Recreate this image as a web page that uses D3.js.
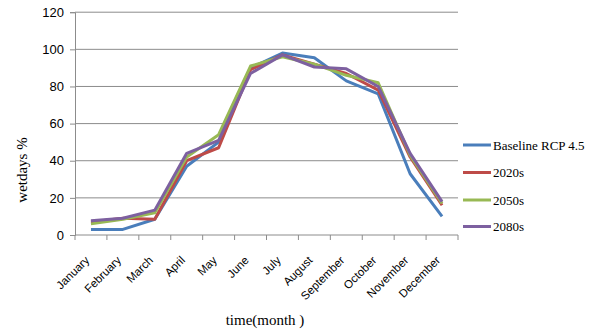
<!DOCTYPE html>
<html>
<head>
<meta charset="utf-8">
<script src="https://cdn.jsdelivr.net/npm/d3@7/dist/d3.min.js"></script>
<style>
  body { margin: 0; background: #fff; }
  svg { display: block; }
</style>
</head>
<body>
<svg id="chart" width="600" height="335"></svg>
<script>
// Monthly share of wet days (%) under the baseline and three future periods
const months = ["January", "February", "March", "April", "May", "June",
  "July", "August", "September", "October", "November", "December"];
const baseline = [3, 3, 8.5, 37, 50, 90, 98, 95.5, 83, 76, 33, 10];
const s2020 = [7, 9, 8.5, 40, 47, 89, 97, 92, 87, 78, 42, 16];
const s2050 = [6, 8.5, 12, 42, 54, 91, 96, 92, 86, 82, 43, 17];
const s2080 = [7.7, 9, 13.4, 44, 51, 87, 97, 90.5, 89.5, 80, 44, 18];
const seriesNames = ["Baseline RCP 4.5", "2020s", "2050s", "2080s"];
const colors = ["#4a7ebb", "#be4b48", "#98b954", "#7d60a0"];
const yTicks = [0, 20, 40, 60, 80, 100, 120];

const allSeries = [baseline, s2020, s2050, s2080];
const svg = d3.select("#chart");
const plotLeft = 75, plotRight = 458, plotTop = 12.2, plotBottom = 235;

const x = d3.scaleBand().domain(months).range([plotLeft, plotRight]);
const y = d3.scaleLinear().domain([0, 120]).range([plotBottom, plotTop]);

// horizontal gridlines
svg.append("g").selectAll("line").data(yTicks.filter(d => d > 0)).join("line")
  .attr("x1", plotLeft).attr("x2", plotRight)
  .attr("y1", d => y(d)).attr("y2", d => y(d))
  .attr("stroke", "#8c8c8c").attr("stroke-width", 1);

// y axis
const yAxis = svg.append("g").attr("transform", `translate(${plotLeft},0)`)
  .call(d3.axisLeft(y).tickValues(yTicks).tickSize(5).tickPadding(6));
yAxis.select(".domain").attr("stroke", "#8c8c8c");
yAxis.selectAll(".tick line").attr("stroke", "#8c8c8c");
yAxis.selectAll("text").attr("font-family", "Liberation Sans, Arial, sans-serif")
  .attr("font-size", 13).attr("fill", "#000");

// x axis with ticks at band boundaries
const xg = svg.append("g").attr("transform", `translate(0,${plotBottom})`);
xg.append("line").attr("x1", plotLeft).attr("x2", plotRight)
  .attr("stroke", "#8c8c8c");
const bounds = months.map(m => x(m)).concat([plotRight]);
xg.selectAll(".bt").data(bounds).join("line")
  .attr("x1", d => d).attr("x2", d => d).attr("y1", 0).attr("y2", 5)
  .attr("stroke", "#8c8c8c");
xg.selectAll(".ml").data(months).join("text")
  .attr("transform", d => `translate(${x(d) + x.bandwidth() / 2 - 1},${26}) rotate(-45)`)
  .attr("text-anchor", "end")
  .attr("font-family", "Liberation Sans, Arial, sans-serif")
  .attr("font-size", 11.5).attr("fill", "#000")
  .text(d => d);

// series lines
const line = d3.line()
  .x((d, i) => x(months[i]) + x.bandwidth() / 2)
  .y(d => y(d));
svg.append("g").selectAll("path").data(allSeries).join("path")
  .attr("d", d => line(d))
  .attr("fill", "none")
  .attr("stroke", (d, i) => colors[i])
  .attr("stroke-width", 3)
  .attr("stroke-linejoin", "round");

// legend
const lg = svg.append("g");
const rowY = [145, 172.5, 200, 226.5];
seriesNames.forEach((name, i) => {
  lg.append("line").attr("x1", 463).attr("x2", 491)
    .attr("y1", rowY[i]).attr("y2", rowY[i])
    .attr("stroke", colors[i]).attr("stroke-width", 3);
  lg.append("text").attr("x", 493).attr("y", rowY[i] + 4.5)
    .attr("font-family", "Liberation Serif, Times New Roman, serif")
    .attr("font-size", 13).attr("fill", "#000")
    .text(name);
});

// axis titles
svg.append("text")
  .attr("transform", "translate(27,170) rotate(-90)")
  .attr("text-anchor", "middle")
  .attr("font-family", "Liberation Serif, Times New Roman, serif")
  .attr("font-size", 15).attr("fill", "#000")
  .text("wetdays %");
svg.append("text")
  .attr("x", 265).attr("y", 325)
  .attr("text-anchor", "middle")
  .attr("font-family", "Liberation Serif, Times New Roman, serif")
  .attr("font-size", 15).attr("fill", "#000")
  .text("time(month )");
</script>
</body>
</html>
